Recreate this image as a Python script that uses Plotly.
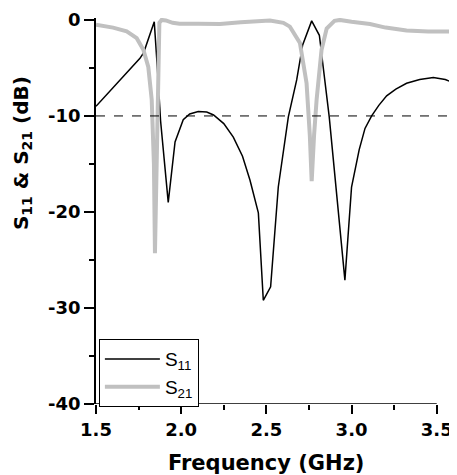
import plotly.graph_objects as go

# S11 data (GHz, dB)
s11_freq = [1.500, 1.600, 1.700, 1.758, 1.780, 1.842, 1.866, 1.879, 1.924, 1.964, 2.012,
            2.050, 2.100, 2.150, 2.190, 2.250, 2.306, 2.360, 2.404, 2.453, 2.482, 2.525,
            2.570, 2.600, 2.629, 2.678, 2.713, 2.766, 2.811, 2.869, 2.961, 3.000, 3.045,
            3.079, 3.118, 3.160, 3.206, 3.260, 3.323, 3.400, 3.480, 3.550, 3.619]
s11_db = [-9.0, -7.1, -5.2, -4.0, -3.4, -0.2, -6.6, -10.5, -19.0, -12.7, -10.4,
          -9.8, -9.55, -9.6, -9.9, -10.8, -12.2, -14.2, -16.7, -20.1, -29.2, -27.8,
          -17.4, -13.5, -10.1, -6.25, -2.6, -0.1, -1.6, -10.1, -27.1, -17.4, -13.5,
          -11.3, -10.0, -8.9, -7.9, -7.2, -6.6, -6.2, -6.0, -6.2, -6.7]

# S21 data (GHz, dB)
s21_freq = [1.500, 1.600, 1.680, 1.739, 1.778, 1.807, 1.827, 1.840, 1.846, 1.860, 1.866,
            1.872, 1.885, 1.910, 1.950, 1.990, 2.100, 2.228, 2.350, 2.450, 2.521, 2.600,
            2.638, 2.697, 2.736, 2.755, 2.766, 2.780, 2.795, 2.824, 2.854, 2.900, 2.932,
            3.000, 3.108, 3.200, 3.323, 3.450, 3.619]
s21_db = [-0.5, -0.8, -1.2, -1.9, -3.1, -4.9, -8.3, -15.0, -24.3, -12.0, -3.0,
          -0.3, 0.0, -0.05, -0.3, -0.4, -0.4, -0.42, -0.25, -0.1, -0.07, -0.3,
          -0.7, -2.4, -6.6, -12.0, -16.8, -12.0, -8.3, -3.1, -0.9, -0.1, 0.0,
          -0.2, -0.42, -0.8, -1.1, -1.2, -1.2]

x_ticks = [1.5, 2.0, 2.5, 3.0, 3.5]
x_tick_labels = ["1.5", "2.0", "2.5", "3.0", "3.5"]
y_ticks = [0, -10, -20, -30, -40]
y_tick_labels = ["0", "-10", "-20", "-30", "-40"]
ref_level = -10

fig = go.Figure()
fig.add_trace(go.Scatter(x=s11_freq, y=s11_db, mode="lines", name="S<sub>11</sub>",
                         line=dict(color="black", width=1.5)))
fig.add_trace(go.Scatter(x=s21_freq, y=s21_db, mode="lines", name="S<sub>21</sub>",
                         line=dict(color="#c0c0c0", width=4)))

# dashed -10 dB reference line
fig.add_shape(type="line", xref="paper", yref="y", x0=0, x1=1, y0=ref_level, y1=ref_level,
              line=dict(color="black", width=1, dash="dash"))
# x axis line (ends at 3.5)
fig.add_shape(type="line", xref="x", yref="y", x0=x_ticks[0], x1=x_ticks[-1], y0=-40, y1=-40,
              line=dict(color="black", width=1.5))

tickfont = dict(family="DejaVu Sans", size=18, color="black", weight="bold")

fig.update_xaxes(range=[1.5, 3.619], tickvals=x_ticks, ticktext=x_tick_labels,
                 ticks="outside", ticklen=9, tickwidth=1.5, tickcolor="black",
                 minor=dict(dtick=0.25, tick0=1.5, ticks="outside", ticklen=5, tickwidth=1.5,
                            tickcolor="black"),
                 showline=False, showgrid=False, zeroline=False, tickfont=tickfont,
                 automargin=False)
fig.update_yaxes(range=[-40, 0.2], tickvals=y_ticks, ticktext=y_tick_labels,
                 ticks="outside", ticklen=10, tickwidth=1.5, tickcolor="black",
                 minor=dict(dtick=5, tick0=0, ticks="outside", ticklen=5, tickwidth=1.5,
                            tickcolor="black"),
                 showline=True, linecolor="black", linewidth=1.5,
                 showgrid=False, zeroline=False, tickfont=tickfont, automargin=False)

fig.add_annotation(text="Frequency (GHz)", xref="x", yref="paper", x=2.5, y=-0.153,
                   xanchor="center", yanchor="middle", showarrow=False,
                   font=dict(family="DejaVu Sans", size=21, color="black", weight="bold"))
fig.add_annotation(text="S<sub>11</sub> & S<sub>21</sub> (dB)", xref="paper", yref="paper",
                   x=-0.205, y=0.65, textangle=-90, xanchor="center", yanchor="middle",
                   showarrow=False,
                   font=dict(family="DejaVu Sans", size=20, color="black", weight="bold"))

# page body has an 8px margin, so the figure is 8px smaller than the window
fig.update_layout(
    width=449, height=467,
    margin=dict(l=88, r=0, t=10, b=71, autoexpand=False),
    paper_bgcolor="white", plot_bgcolor="white",
    showlegend=True,
    legend=dict(x=0.008, y=0.168, xanchor="left", yanchor="top",
                bgcolor="white", bordercolor="black", borderwidth=1,
                font=dict(family="Liberation Sans", size=19, color="black"),
                tracegroupgap=0, itemwidth=55),
)

fig.write_html("out.html")
